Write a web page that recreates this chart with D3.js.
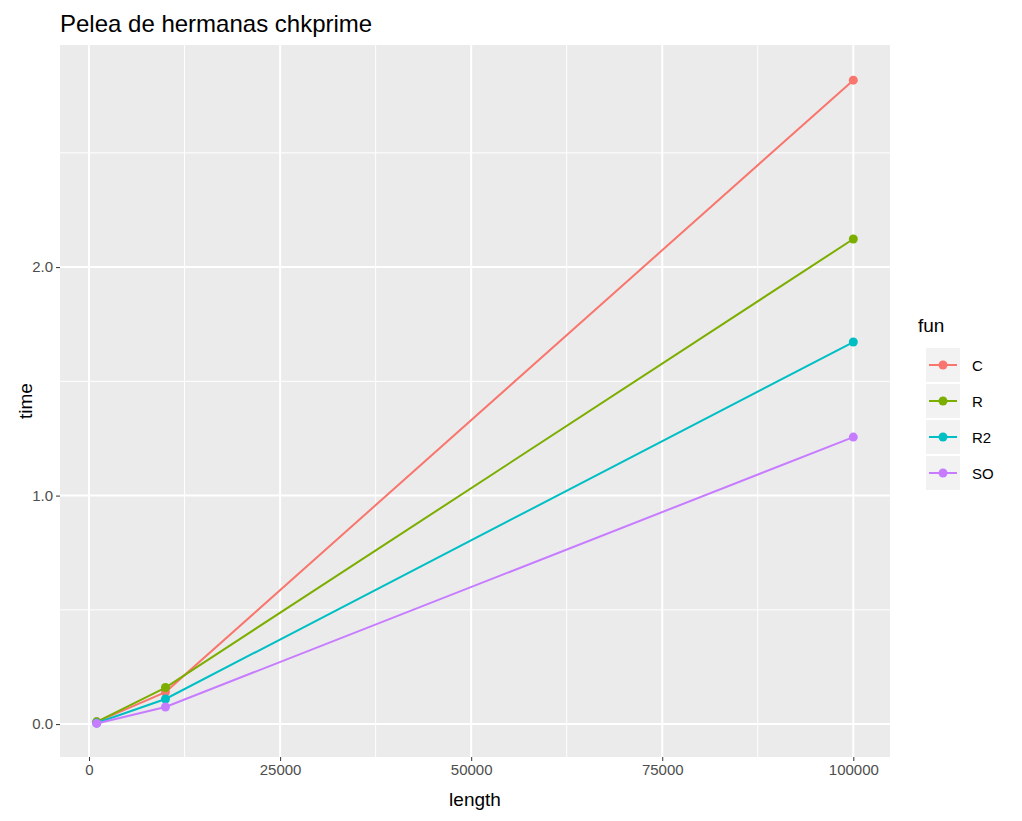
<!DOCTYPE html><html><head><meta charset="utf-8">
<script src="https://cdn.jsdelivr.net/npm/d3@7"></script>
<style>body{margin:0;background:#fff}text{font-family:"Liberation Sans",Arial,sans-serif}</style></head><body>
<svg id="c" width="1022" height="821"></svg>
<script>
const lengths=[1000,10000,100000];
const seriesNames=["C","R","R2","SO"];
const timeC=[0.01,0.14,2.818];
const timeR=[0.01,0.16,2.123];
const timeR2=[0.005,0.11,1.672];
const timeSO=[0.003,0.075,1.256];
const colors=["#F8766D","#7CAE00","#00BFC4","#C77CFF"];
const xTicks=[0,25000,50000,75000,100000];
const yTicks=[0,1,2];
const values=[timeC,timeR,timeR2,timeSO];
const svg=d3.select("#c");
const L=60,R=890,T=45,B=757;
const x=d3.scaleLinear().domain([-3800,104800]).range([L,R]);
const y=d3.scaleLinear().domain([-0.144,2.972]).range([B,T]);
svg.append("rect").attr("x",L).attr("y",T).attr("width",R-L).attr("height",B-T).attr("fill","#EBEBEB");
const g=svg.append("g");
[12500,37500,62500,87500].forEach(v=>g.append("line").attr("x1",x(v)).attr("x2",x(v)).attr("y1",T).attr("y2",B).attr("stroke","#fff").attr("stroke-width",1));
[0.5,1.5,2.5].forEach(v=>g.append("line").attr("y1",y(v)).attr("y2",y(v)).attr("x1",L).attr("x2",R).attr("stroke","#fff").attr("stroke-width",1));
xTicks.forEach(v=>g.append("line").attr("x1",x(v)).attr("x2",x(v)).attr("y1",T).attr("y2",B).attr("stroke","#fff").attr("stroke-width",2));
yTicks.forEach(v=>g.append("line").attr("y1",y(v)).attr("y2",y(v)).attr("x1",L).attr("x2",R).attr("stroke","#fff").attr("stroke-width",2));
const xa=svg.append("g").attr("transform",`translate(0,${B})`).call(d3.axisBottom(x).tickValues(xTicks).tickFormat(d3.format("d")).tickSize(4).tickPadding(3));
const ya=svg.append("g").attr("transform",`translate(${L},0)`).call(d3.axisLeft(y).tickValues(yTicks).tickSize(4).tickPadding(3));
[xa,ya].forEach(a=>{a.select(".domain").remove();a.selectAll("line").attr("stroke","#333");a.selectAll("text").attr("fill","#4D4D4D").attr("font-size",15);});
const line=d3.line().x((d,i)=>x(lengths[i])).y(d=>y(d));
values.forEach((vs,k)=>{
 svg.append("path").attr("d",line(vs)).attr("fill","none").attr("stroke",colors[k]).attr("stroke-width",2);
 vs.forEach((v,i)=>svg.append("circle").attr("cx",x(lengths[i])).attr("cy",y(v)).attr("r",4.5).attr("fill",colors[k]));
});
svg.append("text").attr("x",60).attr("y",32).attr("font-size",24).attr("fill","#000").text("Pelea de hermanas chkprime");
svg.append("text").attr("x",(L+R)/2).attr("y",806).attr("text-anchor","middle").attr("font-size",19).text("length");
svg.append("text").attr("transform",`translate(32,${(T+B)/2}) rotate(-90)`).attr("text-anchor","middle").attr("font-size",19).text("time");
svg.append("text").attr("x",918).attr("y",332).attr("font-size",19).text("fun");
seriesNames.forEach((n,k)=>{
 const cy=365+k*36;
 svg.append("rect").attr("x",926).attr("y",cy-17).attr("width",34).attr("height",34).attr("fill","#F2F2F2");
 svg.append("line").attr("x1",929).attr("x2",957).attr("y1",cy).attr("y2",cy).attr("stroke",colors[k]).attr("stroke-width",2);
 svg.append("circle").attr("cx",943).attr("cy",cy).attr("r",4.5).attr("fill",colors[k]);
 svg.append("text").attr("x",972).attr("y",cy+6).attr("font-size",15).attr("fill","#000").text(n);
});
</script></body></html>
